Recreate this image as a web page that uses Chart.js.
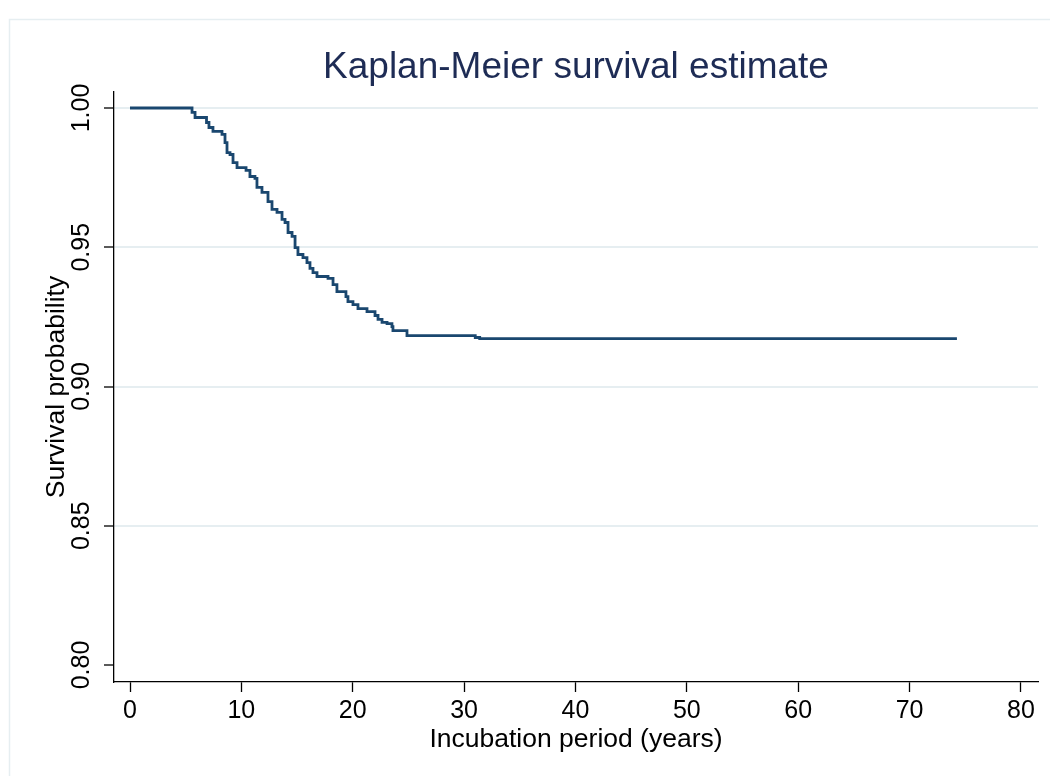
<!DOCTYPE html>
<html>
<head>
<meta charset="utf-8">
<script src="https://cdn.jsdelivr.net/npm/chart.js@4"></script>
<style>
html,body{margin:0;padding:0;background:#fff;}
canvas{display:block;}
</style>
</head>
<body>
<canvas id="c" width="1050" height="776"></canvas>
<script>
// Kaplan-Meier step points (time in years, survival probability)
const times = [0, 5.57, 5.84, 6.87, 7.09, 7.45, 8.26, 8.53, 8.71, 8.98, 9.25, 9.61, 10.42, 10.77, 11.22, 11.40, 11.85, 12.39, 12.75, 13.20, 13.65, 13.92, 14.19, 14.55, 14.82, 15.08, 15.53, 15.89, 16.16, 16.43, 16.79, 17.78, 18.23, 18.58, 19.39, 19.57, 20.02, 20.47, 21.28, 22.00, 22.27, 22.63, 23.08, 23.52, 23.61, 24.87, 31.0, 31.4, 74.25];
const survival = [1, 0.9984, 0.9966, 0.9948, 0.9930, 0.9916, 0.9905, 0.9876, 0.9840, 0.9833, 0.9804, 0.9786, 0.9776, 0.9754, 0.9747, 0.9715, 0.9697, 0.9664, 0.9636, 0.9625, 0.9600, 0.9589, 0.9553, 0.9539, 0.9499, 0.9474, 0.9463, 0.9445, 0.9424, 0.9409, 0.9395, 0.9388, 0.9366, 0.9341, 0.9323, 0.9305, 0.9294, 0.9280, 0.9269, 0.9255, 0.9241, 0.9230, 0.9226, 0.9215, 0.9201, 0.9183, 0.9176, 0.9172, 0.9172];
const xTicks = [0, 10, 20, 30, 40, 50, 60, 70, 80];
const yTicks = [0.80, 0.85, 0.90, 0.95, 1.00];
const yTickLabels = ["0.80", "0.85", "0.90", "0.95", "1.00"];
const titleText = "Kaplan-Meier survival estimate";
const xTitle = "Incubation period (years)";
const yTitle = "Survival probability";

const FONT = "'Liberation Sans', Arial, Helvetica, sans-serif";

const framePlugin = {
  id: 'frame',
  beforeDraw(chart) {
    const ctx = chart.ctx;
    ctx.save();
    ctx.fillStyle = '#ffffff';
    ctx.fillRect(0, 0, chart.width, chart.height);
    ctx.strokeStyle = '#e6eef1';
    ctx.lineWidth = 1.5;
    ctx.strokeRect(9.5, 19.5, chart.width + 20, chart.height + 20);
    ctx.restore();
  }
};

new Chart(document.getElementById('c'), {
  type: 'line',
  data: {
    datasets: [{
      data: times.map((t, i) => ({x: t, y: survival[i]})),
      stepped: true,
      borderColor: '#1a476f',
      borderWidth: 2.8,
      pointRadius: 0,
      fill: false,
      tension: 0
    }]
  },
  options: {
    responsive: false,
    animation: false,
    events: [],
    layout: {padding: {left: 0, right: 12, top: 0, bottom: 0}},
    plugins: {
      legend: {display: false},
      tooltip: {enabled: false},
      title: {
        display: true,
        text: titleText,
        color: '#1e2c55',
        fullSize: false,
        font: {family: FONT, size: 37, weight: 'normal'},
        padding: {top: 45.8, bottom: 1.8}
      }
    },
    scales: {
      x: {
        type: 'linear',
        min: -1.437,
        max: 81.53,
        afterBuildTicks: s => { s.ticks = xTicks.map(v => ({value: v})); },
        afterFit: s => { s.height = 94; s.paddingLeft = 0; s.paddingRight = 0; },
        grid: {display: true, drawOnChartArea: false, drawTicks: true, tickLength: 10, tickColor: '#000', tickWidth: 1.3},
        border: {display: true, color: '#000', width: 1.3},
        ticks: {
          color: '#000', padding: 4, maxRotation: 0, autoSkip: false,
          font: {family: FONT, size: 25},
          callback: v => String(v)
        },
        title: {display: true, text: xTitle, color: '#000', font: {family: FONT, size: 26.5}, padding: {top: 0, bottom: 20}}
      },
      y: {
        type: 'linear',
        min: 0.7939,
        max: 1.00575,
        afterBuildTicks: s => { s.ticks = yTicks.map(v => ({value: v})); },
        afterFit: s => { s.width = 114; s.paddingTop = 0; s.paddingBottom = 0; },
        grid: {
          display: true, drawOnChartArea: true, drawTicks: true, tickLength: 10,
          color: c => (c.tick && Math.abs(c.tick.value - 0.80) < 1e-9) ? 'rgba(0,0,0,0)' : '#e6eef1',
          lineWidth: 2,
          tickColor: '#000', tickWidth: 1.3
        },
        border: {display: true, color: '#000', width: 1.3},
        ticks: {
          color: '#000', padding: -2, minRotation: 90, maxRotation: 90, crossAlign: 'center', autoSkip: false,
          font: {family: FONT, size: 25},
          callback: (v, i) => yTickLabels[i]
        },
        title: {display: true, text: yTitle, color: '#000', font: {family: FONT, size: 26.5}, padding: {top: 41, bottom: 0}}
      }
    }
  },
  plugins: [framePlugin]
});
</script>
</body>
</html>
